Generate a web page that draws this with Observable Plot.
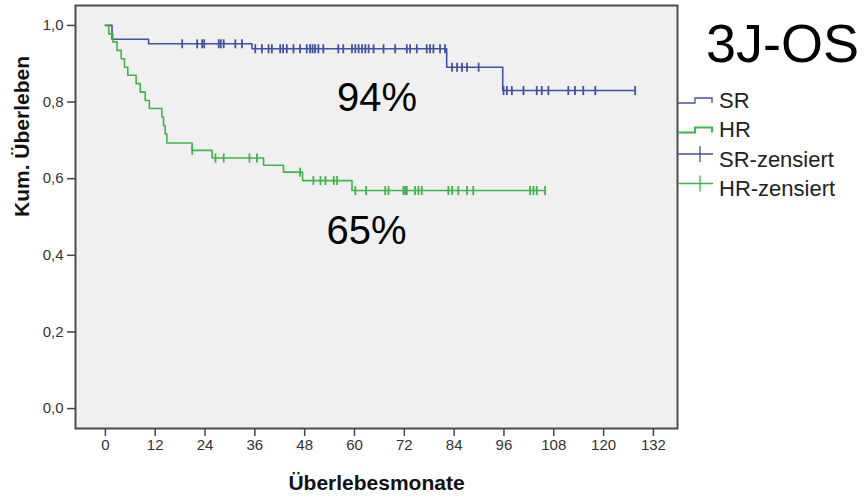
<!DOCTYPE html>
<html>
<head>
<meta charset="utf-8">
<script src="https://cdn.jsdelivr.net/npm/d3@7"></script>
<script src="https://cdn.jsdelivr.net/npm/@observablehq/plot@0.6"></script>
<style>
  html, body { margin: 0; padding: 0; background: #fff; }
  #wrap { position: relative; width: 865px; height: 500px; font-family: "Liberation Sans", Arial, sans-serif; }
  #overlay { position: absolute; left: 0; top: 0; pointer-events: none; }
</style>
</head>
<body>
<div id="wrap"></div>
<script>
// ---- data ----
const srTimes = [0, 1.6, 10.4, 35.3, 82.2, 95.7, 127.6];
const srSurv  = [1.0, 0.964, 0.952, 0.939, 0.891, 0.830, 0.830];
const srCensorTimes = [18.5, 22.1, 23.3, 23.8, 27.3, 27.8, 28.5, 31.3, 32.9, 36.1, 37.7, 39.3, 40.1, 42.1, 42.8, 43.7, 45.3, 46.9, 48.5, 49.3, 49.9, 50.5, 51.3, 52.5, 56.1, 57.3, 59.4, 60.2, 61.0, 61.8, 62.6, 63.4, 64.6, 67.0, 69.8, 72.6, 73.4, 75.0, 77.4, 78.2, 79.0, 80.6, 81.8, 83.5, 84.7, 85.9, 87.1, 89.9, 95.9, 96.7, 97.9, 100.7, 103.9, 105.1, 106.7, 111.5, 113.1, 115.1, 118.0, 127.6];

const hrTimes = [0, 0.8, 1.8, 2.8, 3.8, 4.6, 5.4, 7.4, 8.4, 9.6, 10.6, 13.6, 14.0, 14.4, 14.8, 20.9, 25.7, 38.1, 42.9, 47.5, 59.4, 105.9];
const hrSurv  = [1.0, 0.978, 0.957, 0.935, 0.913, 0.891, 0.870, 0.848, 0.826, 0.804, 0.783, 0.761, 0.739, 0.717, 0.693, 0.674, 0.654, 0.635, 0.617, 0.595, 0.569, 0.569];
const hrCensorTimes = [20.9, 26.5, 28.5, 34.7, 36.5, 46.9, 50.1, 51.8, 53.0, 55.0, 55.8, 60.2, 62.8, 67.4, 68.2, 71.8, 72.2, 72.6, 74.6, 75.4, 76.2, 82.6, 83.5, 85.0, 87.1, 88.6, 102.3, 103.1, 103.9, 105.9];

const xTicks = [0, 12, 24, 36, 48, 60, 72, 84, 96, 108, 120, 132];
const yTicks = [0, 0.2, 0.4, 0.6, 0.8, 1.0];

const annotLabels = ["94%", "65%"];
const annotX = [65.4, 62.9];
const annotY = [0.811, 0.463];

const groups = ["SR", "HR"];
const legendLabels = ["SR", "HR", "SR-zensiert", "HR-zensiert"];
const title = "3J-OS";
const xLabel = "Überlebesmonate";
const yLabel = "Kum. Überleben";

const colors = {SR: "#4051a3", HR: "#3db54a"};

// ---- build tables ----
function steps(group, times, surv) {
  return times.map((t, i) => ({group, t, s: surv[i]}));
}
function censors(group, ctimes, times, surv) {
  return ctimes.map(t => {
    let s = surv[0];
    for (let i = 0; i < times.length; i++) if (times[i] <= t) s = surv[i];
    return {group, t, s};
  });
}
const stepData = [...steps("SR", srTimes, srSurv), ...steps("HR", hrTimes, hrSurv)];
const censorData = [...censors("SR", srCensorTimes, srTimes, srSurv), ...censors("HR", hrCensorTimes, hrTimes, hrSurv)];
const annotData = annotLabels.map((label, i) => ({label, t: annotX[i], s: annotY[i]}));

const vline = {
  draw(ctx, size) {
    const r = Math.sqrt(size / Math.PI);
    ctx.moveTo(0, -r);
    ctx.lineTo(0, r);
  }
};

const fmt = d => d3.format(".1f")(d).replace(".", ",");
const font = "Liberation Sans, Arial, sans-serif";

const plot = Plot.plot({
  width: 865,
  height: 500,
  marginLeft: 75,
  marginRight: 188,
  marginTop: 5,
  marginBottom: 72,
  style: {fontFamily: font, background: "#fff"},
  x: {domain: [-7.2, 137.8]},
  y: {domain: [-0.052, 1.052]},
  color: {domain: groups, range: groups.map(g => colors[g])},
  marks: [
    Plot.frame({fill: "#f0f0f0"}),
    Plot.axisX({ticks: xTicks, tickSize: 8, tickPadding: 3, fontSize: 15, color: "#333", stroke: "#444", strokeWidth: 1.5, label: null}),
    Plot.axisY({ticks: yTicks, tickSize: 8, tickPadding: 4, fontSize: 15, color: "#333", stroke: "#444", strokeWidth: 1.5, tickFormat: fmt, label: null}),
    Plot.line(stepData, {x: "t", y: "s", z: "group", stroke: "group", curve: "step-after", strokeWidth: 1.6}),
    Plot.dot(censorData, {x: "t", y: "s", stroke: "group", symbol: vline, r: 4.5, strokeWidth: 1.8, fill: "none"}),
    Plot.text(annotData, {x: "t", y: "s", text: "label", fontSize: 40, fill: "#000", textAnchor: "middle", lineAnchor: "middle"}),
    Plot.text([xLabel], {frameAnchor: "bottom", dy: 55, fontSize: 21, fontWeight: "bold", fill: "#111", lineAnchor: "middle"}),
    Plot.text([yLabel], {frameAnchor: "left", dx: -53, rotate: -90, fontSize: 21, fontWeight: "bold", fill: "#111", lineAnchor: "middle"}),
    Plot.frame({stroke: "#4d4d4d", strokeWidth: 2})
  ]
});

const wrap = document.getElementById("wrap");
wrap.appendChild(plot);

// ---- overlay: title and legend ----
const svg = d3.select(wrap).append("svg")
  .attr("id", "overlay")
  .attr("width", 865).attr("height", 500)
  .style("font-family", font);

svg.append("text")
  .attr("x", 706).attr("y", 62)
  .attr("font-size", 54).attr("fill", "#000")
  .text(title);

const rowY = [100, 129.5, 159, 188.5];
legendLabels.forEach((lab, i) => {
  const g = groups[i % 2];
  const c = rowY[i];
  const col = colors[g];
  if (i < 2) {
    svg.append("path")
      .attr("d", `M678,${c + 3}H695V${c - 2}H712V${c + 3}`)
      .attr("fill", "none").attr("stroke", col).attr("stroke-width", i === 1 ? 2 : 1.3);
  } else {
    svg.append("path")
      .attr("d", `M678,${c - 5}H713M700,${c - 13}V${c + 3}`)
      .attr("fill", "none").attr("stroke", col).attr("stroke-width", 1.3);
  }
  svg.append("text")
    .attr("x", 719).attr("y", c)
    .attr("dy", "0.35em")
    .attr("font-size", 22).attr("fill", "#222")
    .text(lab);
});
</script>
</body>
</html>
